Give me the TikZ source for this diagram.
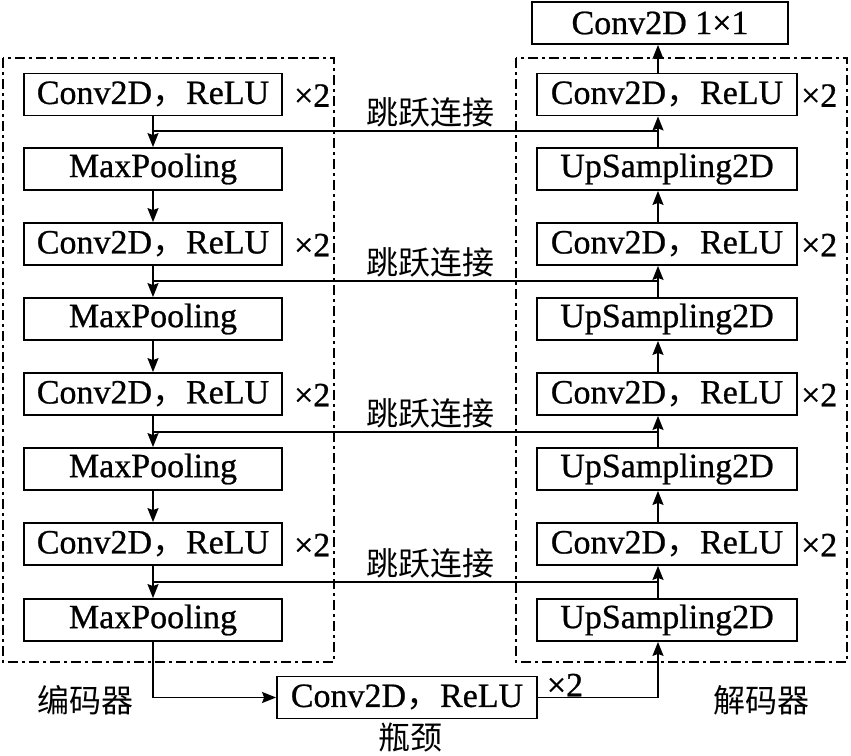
\documentclass[tikz,border=0pt]{standalone}
\usepackage{fontspec}
\setmainfont{Liberation Serif}[FakeBold=0.7]
\newfontfamily\cjk{Noto Sans CJK SC}
\usetikzlibrary{arrows.meta,calc}
\newcommand{\convrelu}{Conv2D{\cjk ，}ReLU}
\begin{document}
\begin{tikzpicture}[x=1pt,y=-1pt,
  font=\fontsize{34}{38}\selectfont,
  blk/.style={draw,line width=1.8pt,inner sep=0pt,minimum height=42pt,minimum width=258pt},
  arr/.style={line width=1.6pt,-{Stealth[length=14pt,width=11pt,inset=2pt]}},
  ln/.style={line width=1.6pt},
  frame/.style={line width=1.4pt,dash pattern=on 10pt off 4pt on 3pt off 4pt},
  lab/.style={inner sep=0pt},
  cjklab/.style={inner sep=0pt,font=\cjk\fontsize{32}{36}\selectfont}]
\useasboundingbox (0,0) rectangle (851,755);
% frames
\draw[frame] (3,58) rectangle (334,662);
\draw[frame] (516,58) rectangle (847,662);
% encoder
\node[blk] (e1) at (153,94.5) {\convrelu};
\node[blk] (p1) at (153,169) {MaxPooling};
\node[blk] (e2) at (153,244) {\convrelu};
\node[blk] (p2) at (153,319) {MaxPooling};
\node[blk] (e3) at (153,394) {\convrelu};
\node[blk] (p3) at (153,469) {MaxPooling};
\node[blk] (e4) at (153,544) {\convrelu};
\node[blk] (p4) at (153,620) {MaxPooling};
% decoder
\node[blk,minimum width=256pt] (top) at (660,23) {Conv2D 1×1};
\node[blk,minimum width=260pt] (d1) at (667,94.5) {\convrelu};
\node[blk,minimum width=260pt] (u1) at (667,169) {UpSampling2D};
\node[blk,minimum width=260pt] (d2) at (667,244) {\convrelu};
\node[blk,minimum width=260pt] (u2) at (667,319) {UpSampling2D};
\node[blk,minimum width=260pt] (d3) at (667,394) {\convrelu};
\node[blk,minimum width=260pt] (u3) at (667,469) {UpSampling2D};
\node[blk,minimum width=260pt] (d4) at (667,544) {\convrelu};
\node[blk,minimum width=260pt] (u4) at (667,620) {UpSampling2D};
% bottleneck
\node[blk,minimum width=260pt] (b) at (407,697.5) {\convrelu};
% x2 labels
\foreach \n in {e1,e2,e3,e4} \node[lab,anchor=west] at ([xshift=11pt,yshift=-1pt]\n.east) {×2};
\foreach \n in {d1,d2,d3,d4} \node[lab,anchor=west] at ([xshift=3pt,yshift=-1pt]\n.east) {×2};
\node[lab] at (565,685) {×2};
% encoder arrows
\draw[arr] (e1) -- (p1);
\draw[arr] (p1) -- (e2);
\draw[arr] (e2) -- (p2);
\draw[arr] (p2) -- (e3);
\draw[arr] (e3) -- (p3);
\draw[arr] (p3) -- (e4);
\draw[arr] (e4) -- (p4);
% decoder arrows
\coordinate (rx) at (658,0);
\draw[arr] (u1.north -| rx) -- (d1.south -| rx);
\draw[arr] (d2.north -| rx) -- (u1.south -| rx);
\draw[arr] (u2.north -| rx) -- (d2.south -| rx);
\draw[arr] (d3.north -| rx) -- (u2.south -| rx);
\draw[arr] (u3.north -| rx) -- (d3.south -| rx);
\draw[arr] (d4.north -| rx) -- (u3.south -| rx);
\draw[arr] (u4.north -| rx) -- (d4.south -| rx);
\draw[arr] (d1.north -| rx) -- (top.south -| rx);
% skip connections
\foreach \i/\y in {1/131,2/281,3/432,4/582}{
  \coordinate (sl\i) at (153,\y);
  \coordinate (sr\i) at (658,\y);
  \draw[ln] (sl\i) -- (sr\i);
  \node[cjklab] at (430,\y-19) {跳跃连接};
}
% bottleneck path
\coordinate (bl) at (153,697.5);
\coordinate (br) at (658,697.5);
\draw[arr] (p4.south) -- (bl) -- (b.west);
\draw[arr] (b.east) -- (br) -- (u4.south -| rx);
% labels
\node[cjklab] at (85,700) {编码器};
\node[cjklab] at (761,700) {解码器};
\node[cjklab] at (410,737) {瓶颈};
\end{tikzpicture}
\end{document}
